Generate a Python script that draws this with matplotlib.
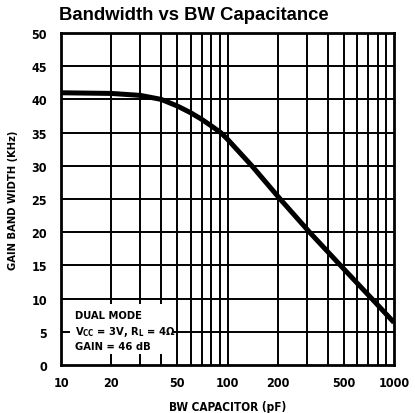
import matplotlib
matplotlib.use("Agg")
import matplotlib.pyplot as plt
from matplotlib.patches import Rectangle
from matplotlib.ticker import FixedLocator, NullFormatter

plt.rcParams["font.family"] = ["DejaVu Sans Condensed", "DejaVu Sans"]
plt.rcParams["font.stretch"] = "condensed"
plt.rcParams["font.weight"] = "bold"
plt.rcParams["axes.labelweight"] = "bold"

# curve
cap_pf = [10, 20, 30, 40, 50, 60, 70, 80, 91, 100, 140, 207, 311, 477, 735, 1000]
gbw_khz = [41.0, 40.9, 40.6, 40.0, 39.0, 38.0, 37.0, 36.0, 35.0, 34.0, 30.0, 25.0, 20.0, 15.0, 10.0, 6.4]

x_ticks = [10, 20, 50, 100, 200, 500, 1000]
x_grid = [20, 30, 40, 50, 60, 70, 80, 90, 100, 200, 300, 400, 500, 600, 700, 800, 900]
y_ticks = list(range(0, 51, 5))
note_lines = ["DUAL MODE",
              r"V$_{\mathbf{CC}}$ = 3V, R$_{\mathbf{L}}$ = 4Ω",
              "GAIN = 46 dB"]

fig = plt.figure(figsize=(4.15, 4.14), dpi=100)
ax = fig.add_axes([61 / 415, 1 - 366 / 414, 333 / 415, 332 / 414])

ax.set_xscale("log")
ax.set_xlim(10, 1000)
ax.set_ylim(0, 50)

for xv in x_grid:
    ax.axvline(xv, color="black", lw=1.4, zorder=1)
for yv in y_ticks[1:-1]:
    ax.axhline(yv, color="black", lw=1.4, zorder=1)

ax.plot(cap_pf, gbw_khz, color="black", lw=3.6, solid_capstyle="butt",
        solid_joinstyle="round", zorder=3)

ax.xaxis.set_major_locator(FixedLocator(x_ticks))
ax.xaxis.set_minor_locator(FixedLocator([]))
ax.xaxis.set_minor_formatter(NullFormatter())
ax.set_xticklabels([str(v) for v in x_ticks])
ax.set_yticks(y_ticks)
ax.tick_params(length=0, labelsize=9)
ax.tick_params(axis="x", pad=8)
ax.tick_params(axis="y", pad=10)

for sp in ax.spines.values():
    sp.set_linewidth(2.0)

ax.set_xlabel("BW CAPACITOR (pF)", fontsize=8.5, labelpad=8)
ax.set_ylabel("GAIN BAND WIDTH (KHz)", fontsize=8, labelpad=10)
ax.set_title("Bandwidth vs BW Capacitance", fontsize=13.3, fontweight="bold",
             family=["Liberation Sans", "DejaVu Sans"], fontstretch="normal",
             loc="left", x=-0.006, pad=10)

# white patch behind the operating-condition note
ax.add_patch(Rectangle((11.3, 1.65), 46.3 - 11.3, 9.2 - 1.65, facecolor="white",
                       edgecolor="none", zorder=2))
for yv, line in zip([7.6, 5.1, 2.9], note_lines):
    ax.text(12.1, yv, line, fontsize=8, ha="left", va="center", zorder=4)

fig.savefig("out.png", dpi=100)
